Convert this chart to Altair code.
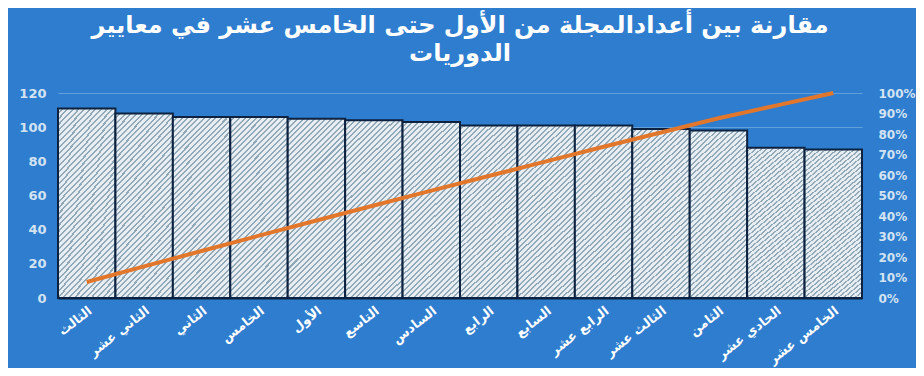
import altair as alt
import pandas as pd

categories = ["الثالث", "الثاني عشر", "الثاني", "الخامس", "الأول", "التاسع", "السادس",
              "الرابع", "السابع", "الرابع عشر", "الثالث عشر", "الثامن", "الحادي عشر", "الخامس عشر"]
values = [111, 108, 106, 106, 105, 104, 103, 101, 101, 101, 99, 98, 88, 87]

title_lines = ["مقارنة بين أعدادالمجلة من الأول حتى الخامس عشر في معايير", "الدوريات"]

total = sum(values)
cum = []
run = 0
for v in values:
    run += v
    cum.append(run / total)

df = pd.DataFrame({"cat": categories, "val": values, "cum": cum})

BG = "#2E7DCF"
LABEL = "#D4E3F2"
FONT = "DejaVu Sans"

# hatch-like stripes via a gradient
light, dark = "#E6EEF3", "#93A8B7"
n = 44
stops = []
for i in range(n):
    a = i / n
    b = (i + 0.64) / n
    c = (i + 1) / n
    stops += [alt.GradientStop(color=light, offset=a), alt.GradientStop(color=light, offset=b),
              alt.GradientStop(color=dark, offset=b), alt.GradientStop(color=dark, offset=c)]
hatch = alt.LinearGradient(gradient="linear", stops=stops, x1=0, y1=0, x2=0.4, y2=1.25)

x = alt.X("cat:N", sort=None,
          scale=alt.Scale(paddingInner=0, paddingOuter=0),
          axis=alt.Axis(title=None, labelAngle=-38, labelColor="white", labelFont=FONT,
                        labelFontSize=13, labelFontWeight="bold", ticks=False,
                        domain=True, domainColor="#0D2240", domainWidth=2, labelPadding=6,
                        labelOverlap=False))

bars = alt.Chart(df).mark_bar(fill=hatch, stroke="#0D2240", strokeWidth=2).encode(
    x=x,
    y=alt.Y("val:Q", scale=alt.Scale(domain=[0, 120]),
            axis=alt.Axis(title=None, values=[0, 20, 40, 60, 80, 100, 120], labelColor=LABEL,
                          labelFont=FONT, labelFontSize=13, labelFontWeight="bold",
                          ticks=False, domain=False, gridColor="#62A0DC", gridWidth=1,
                          labelPadding=12))
)

line = alt.Chart(df).mark_line(color="#E2772C", strokeWidth=4).encode(
    x=x,
    y=alt.Y("cum:Q", scale=alt.Scale(domain=[0, 1]),
            axis=alt.Axis(title=None, orient="right", format=".0%",
                          values=[i / 10 for i in range(11)], labelColor=LABEL, labelFont=FONT,
                          labelFontSize=12, labelFontWeight="bold", ticks=False, domain=False,
                          grid=False, labelPadding=16))
)

chart = alt.layer(bars, line).resolve_scale(y="independent").properties(
    width=804, height=205,
    autosize=alt.AutoSizeParams(type="none"),
    padding={"left": 50, "top": 85, "right": 54, "bottom": 70},
    background=BG,
    title=alt.TitleParams(text=title_lines, color="white", font=FONT, fontSize=24,
                          fontWeight="bold", anchor="middle", lineHeight=28, offset=19),
).configure_view(stroke=None)

chart.save("out.html", embed_options={"renderer": "svg", "actions": False})
